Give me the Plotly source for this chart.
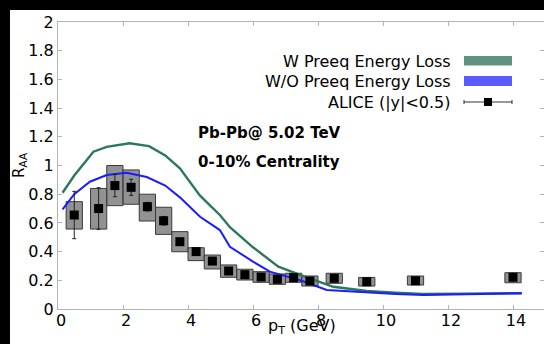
import plotly.graph_objects as go

# ---- data ----
green_x = [0.14, 0.5, 1.09, 1.5, 2.2, 2.8, 3.3, 3.75, 4.37, 4.98, 5.29, 6.0, 6.78, 7.45, 8.47, 9.5, 10.4, 11.2, 12.5, 14.27]
green_y = [0.81, 0.93, 1.096, 1.13, 1.155, 1.135, 1.07, 0.98, 0.79, 0.655, 0.57, 0.43, 0.295, 0.237, 0.155, 0.125, 0.114, 0.105, 0.107, 0.11]
blue_x = [0.14, 0.5, 0.98, 1.5, 2.11, 2.73, 3.3, 3.75, 4.37, 4.98, 5.29, 6.0, 6.52, 7.45, 8.27, 9.5, 10.4, 11.24, 12.5, 14.27]
blue_y = [0.695, 0.80, 0.887, 0.934, 0.95, 0.92, 0.86, 0.778, 0.643, 0.55, 0.434, 0.33, 0.26, 0.2, 0.132, 0.114, 0.105, 0.098, 0.104, 0.109]

alice_x = [0.5, 1.25, 1.75, 2.25, 2.75, 3.25, 3.75, 4.25, 4.75, 5.25, 5.75, 6.25, 6.75, 7.25, 7.75, 8.5, 9.5, 11, 14]
alice_y = [0.655, 0.70, 0.86, 0.848, 0.713, 0.615, 0.469, 0.40, 0.334, 0.265, 0.239, 0.223, 0.207, 0.218, 0.195, 0.214, 0.19, 0.197, 0.221]
alice_stat = [0.165, 0.145, 0.078, 0.056, 0.03, 0.03, 0.025, 0.02, 0.018, 0.015, 0.013, 0.012, 0.012, 0.012, 0.012, 0.014, 0.014, 0.015, 0.018]
sys_lo = [0.557, 0.557, 0.72, 0.73, 0.613, 0.52, 0.399, 0.337, 0.279, 0.221, 0.202, 0.186, 0.172, 0.186, 0.16, 0.179, 0.16, 0.167, 0.183]
sys_hi = [0.748, 0.84, 1.0, 0.969, 0.80, 0.709, 0.539, 0.427, 0.376, 0.307, 0.277, 0.26, 0.244, 0.249, 0.23, 0.249, 0.22, 0.23, 0.253]

x_ticks = [0, 2, 4, 6, 8, 10, 12, 14]
y_ticks = [0, 0.2, 0.4, 0.6, 0.8, 1, 1.2, 1.4, 1.6, 1.8, 2]

legend_labels = ["W Preeq Energy Loss", "W/O Preeq Energy Loss", "ALICE (|y|<0.5)"]

FONT = "DejaVu Sans"
W, H = 544, 344
ML, MR, MT, MB = 58, 0, 22, 35
PW, PH = W - ML - MR, H - MT - MB


def px(xp):
    return (xp - ML) / PW


def py(yp):
    return (H - MB - yp) / PH


fig = go.Figure()

# systematic boxes
fig.add_trace(go.Bar(
    x=alice_x,
    y=[h - l for h, l in zip(sys_hi, sys_lo)],
    base=sys_lo,
    width=0.5,
    marker=dict(color="rgba(110,110,110,0.75)", line=dict(color="#3a3a3a", width=1)),
    showlegend=False,
    hoverinfo="skip",
))

fig.add_trace(go.Scatter(
    x=green_x, y=green_y, mode="lines",
    line=dict(color="#2b7760", width=2.4),
    showlegend=False,
))
fig.add_trace(go.Scatter(
    x=blue_x, y=blue_y, mode="lines",
    line=dict(color="#1c1cff", width=2),
    showlegend=False,
))

fig.add_trace(go.Scatter(
    x=alice_x, y=alice_y, mode="markers",
    marker=dict(symbol="square", size=9, color="black"),
    error_y=dict(type="data", array=alice_stat, color="#222", thickness=1, width=2),
    showlegend=False,
))

shapes = [
    # black frame strips (left and top) around the white canvas
    dict(type="rect", xref="paper", yref="paper",
         x0=px(-5), x1=px(10), y0=py(H + 5), y1=py(-5),
         fillcolor="black", line=dict(width=0), layer="below"),
    dict(type="rect", xref="paper", yref="paper",
         x0=px(-5), x1=px(W + 5), y0=py(10), y1=py(-5),
         fillcolor="black", line=dict(width=0), layer="below"),
    # legend swatches
    dict(type="rect", xref="paper", yref="paper",
         x0=px(464), x1=px(512), y0=py(65.5), y1=py(56),
         fillcolor="#5f9282", line=dict(width=0)),
    dict(type="rect", xref="paper", yref="paper",
         x0=px(464), x1=px(512), y0=py(86), y1=py(76),
         fillcolor="#5a5aff", line=dict(width=0)),
    dict(type="line", xref="paper", yref="paper",
         x0=px(464), x1=px(512), y0=py(102), y1=py(102),
         line=dict(color="#333", width=1)),
    dict(type="line", xref="paper", yref="paper",
         x0=px(464), x1=px(464), y0=py(100), y1=py(104),
         line=dict(color="#333", width=1)),
    dict(type="line", xref="paper", yref="paper",
         x0=px(512), x1=px(512), y0=py(100), y1=py(104),
         line=dict(color="#333", width=1)),
    dict(type="rect", xref="paper", yref="paper",
         x0=px(484), x1=px(492), y0=py(106), y1=py(98),
         fillcolor="black", line=dict(width=0)),
]

annotations = []
for lab, yy in zip(legend_labels, [61, 81, 102]):
    annotations.append(dict(
        text=lab, xref="paper", yref="paper", x=px(453), y=py(yy),
        xanchor="right", yanchor="middle", showarrow=False,
        font=dict(family=FONT, size=16, color="black"),
    ))
annotations += [
    dict(text="<b>Pb-Pb@ 5.02 TeV</b>", xref="paper", yref="paper",
         x=px(196), y=py(133), xanchor="left", yanchor="middle", showarrow=False,
         font=dict(family=FONT, size=15, color="black")),
    dict(text="<b>0-10% Centrality</b>", xref="paper", yref="paper",
         x=px(196), y=py(161.5), xanchor="left", yanchor="middle", showarrow=False,
         font=dict(family=FONT, size=15, color="black")),
    dict(text="R<sub>AA</sub>", xref="paper", yref="paper",
         x=px(19), y=py(165), xanchor="center", yanchor="middle", textangle=-90,
         showarrow=False, font=dict(family=FONT, size=15, color="black")),
    dict(text="p<sub>T</sub> (GeV)", xref="paper", yref="paper",
         x=px(302), y=py(326), xanchor="center", yanchor="middle",
         showarrow=False, font=dict(family=FONT, size=16, color="black")),
]

axis_common = dict(
    showline=True, linecolor="#b4b4b4", linewidth=1, mirror="ticks",
    ticks="inside", ticklen=4, tickcolor="#b4b4b4", tickwidth=1,
    showgrid=False, zeroline=False,
    tickfont=dict(family=FONT, size=16, color="black"),
)

fig.update_layout(
    width=W, height=H,
    margin=dict(l=ML, r=MR, t=MT, b=MB, autoexpand=False),
    paper_bgcolor="white", plot_bgcolor="white",
    xaxis=dict(range=[0, PW / 32.5], tickvals=x_ticks, ticktext=[str(v) for v in x_ticks],
               ticklabelshift=3, ticklabelstandoff=-3, **axis_common),
    yaxis=dict(range=[0, 2], tickvals=y_ticks, ticktext=[f"{v:g}" for v in y_ticks],
               **axis_common),
    shapes=shapes,
    annotations=annotations,
    showlegend=False,
    barmode="overlay",
)

fig.write_html(
    "out.html",
    config={"displayModeBar": False},
    post_script="document.body.style.margin='0';document.body.style.background='white';"
                "document.documentElement.style.background='white';"
                "document.documentElement.style.overflow='hidden';",
)
